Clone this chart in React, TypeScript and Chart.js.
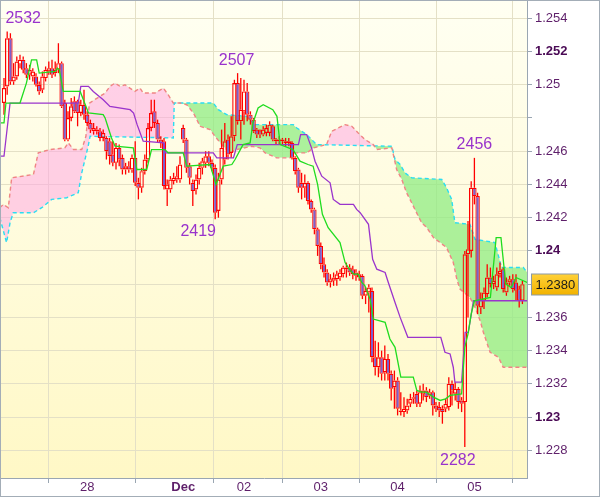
import React, { useEffect, useRef } from 'react';
import { Chart, registerables } from 'chart.js';

Chart.register(...registerables);

// ---------- data ----------
// hourly candles, first candle index
const FIRST_INDEX = -2;

const opens = [
  1.2489, 1.2499, 1.2528, 1.2502, 1.2505, 1.2512, 1.2515, 1.2510, 1.2506, 1.2505,
  1.2505, 1.2500, 1.2497, 1.2504, 1.2508, 1.2510, 1.2507, 1.2509, 1.2513, 1.2489,
  1.2467, 1.2480, 1.2490, 1.2490, 1.2483, 1.2488, 1.2482, 1.2477, 1.2472, 1.2472,
  1.2472, 1.2468, 1.2468, 1.2466, 1.2458, 1.2453, 1.2462, 1.2456, 1.2449, 1.2451,
  1.2449, 1.2456, 1.2441, 1.2438, 1.2448, 1.2455, 1.2474, 1.2484, 1.2477, 1.2467,
  1.2466, 1.2437, 1.2437, 1.2442, 1.2443, 1.2443, 1.2474, 1.2467, 1.2451, 1.2441,
  1.2437, 1.2443, 1.2450, 1.2453, 1.2457, 1.2453, 1.2450, 1.2424, 1.2443, 1.2455,
  1.2467, 1.2459, 1.2469, 1.2501, 1.2478, 1.2484, 1.2496, 1.2482, 1.2479, 1.2473,
  1.2472, 1.2470, 1.2471, 1.2471, 1.2475, 1.2467, 1.2466, 1.2467, 1.2466, 1.2465,
  1.2465, 1.2456, 1.2449, 1.2441, 1.2438, 1.2441, 1.2430, 1.2425, 1.2413, 1.2403,
  1.2392, 1.2387, 1.2381, 1.2382, 1.2383, 1.2384, 1.2386, 1.2389, 1.2390, 1.2389,
  1.2387, 1.2386, 1.2385, 1.2373, 1.2375, 1.2376, 1.2336, 1.2330, 1.2336, 1.2327,
  1.2335, 1.2326, 1.2318, 1.2322, 1.2304, 1.2303, 1.2304, 1.2308, 1.2311, 1.2314,
  1.2308, 1.2314, 1.2316, 1.2313, 1.2315, 1.2307, 1.2306, 1.2305, 1.2305, 1.2306,
  1.2320, 1.2314, 1.2317, 1.2310, 1.2309, 1.2398, 1.2400, 1.2438, 1.2433, 1.2366,
  1.2370, 1.2374, 1.2384, 1.2380, 1.2378, 1.2386, 1.2389, 1.2375, 1.2381, 1.2383,
  1.2381, 1.2377, 1.2370,
];
const highs = [
  1.2504, 1.2532, 1.2531, 1.2513, 1.2517, 1.2518, 1.2517, 1.2513, 1.2512, 1.2510,
  1.2507, 1.2502, 1.2508, 1.2511, 1.2514, 1.2515, 1.2514, 1.2525, 1.2514, 1.2491,
  1.2484, 1.2492, 1.2493, 1.2491, 1.2491, 1.2497, 1.2484, 1.2479, 1.2477, 1.2475,
  1.2474, 1.2473, 1.2469, 1.2468, 1.2466, 1.2465, 1.2464, 1.2458, 1.2453, 1.2454,
  1.2458, 1.2466, 1.2444, 1.2450, 1.2458, 1.2477, 1.2491, 1.2491, 1.2479, 1.2469,
  1.2468, 1.2443, 1.2445, 1.2447, 1.2451, 1.2457, 1.2476, 1.2468, 1.2453, 1.2443,
  1.2446, 1.2453, 1.2456, 1.2460, 1.2460, 1.2455, 1.2452, 1.2447, 1.2473, 1.2477,
  1.2470, 1.2481, 1.2503, 1.2507, 1.2504, 1.2503, 1.2501, 1.2484, 1.2480, 1.2474,
  1.2473, 1.2475, 1.2476, 1.2478, 1.2476, 1.2468, 1.2469, 1.2468, 1.2468, 1.2468,
  1.2466, 1.2457, 1.2450, 1.2447, 1.2446, 1.2442, 1.2431, 1.2426, 1.2414, 1.2405,
  1.2396, 1.2389, 1.2386, 1.2387, 1.2388, 1.2389, 1.2391, 1.2393, 1.2392, 1.2391,
  1.2389, 1.2388, 1.2386, 1.2378, 1.2380, 1.2378, 1.2346, 1.2345, 1.2340, 1.2343,
  1.2338, 1.2328, 1.2328, 1.2324, 1.2315, 1.2312, 1.2311, 1.2314, 1.2315, 1.2316,
  1.2319, 1.2320, 1.2318, 1.2317, 1.2316, 1.2309, 1.2309, 1.2307, 1.2311, 1.2324,
  1.2322, 1.2321, 1.2318, 1.2312, 1.2400, 1.2418, 1.2442, 1.2456, 1.2435, 1.2375,
  1.2378, 1.2392, 1.2390, 1.2385, 1.2390, 1.2393, 1.2390, 1.2384, 1.2385, 1.2386,
  1.2386, 1.2379, 1.2382,
];
const lows = [
  1.2482, 1.2494, 1.2500, 1.2500, 1.2503, 1.2510, 1.2507, 1.2504, 1.2503, 1.2502,
  1.2499, 1.2494, 1.2495, 1.2502, 1.2506, 1.2504, 1.2505, 1.2507, 1.2486, 1.2466,
  1.2466, 1.2478, 1.2483, 1.2475, 1.2481, 1.2479, 1.2475, 1.2471, 1.2470, 1.2470,
  1.2466, 1.2466, 1.2455, 1.2452, 1.2451, 1.2449, 1.2451, 1.2446, 1.2446, 1.2447,
  1.2447, 1.2439, 1.2431, 1.2435, 1.2446, 1.2453, 1.2472, 1.2474, 1.2465, 1.2462,
  1.2437, 1.2427, 1.2435, 1.2440, 1.2441, 1.2441, 1.2465, 1.2447, 1.2440, 1.2427,
  1.2434, 1.2440, 1.2446, 1.2450, 1.2451, 1.2448, 1.2419, 1.2420, 1.2440, 1.2452,
  1.2455, 1.2456, 1.2466, 1.2476, 1.2467, 1.2476, 1.2478, 1.2476, 1.2471, 1.2468,
  1.2468, 1.2469, 1.2469, 1.2469, 1.2466, 1.2464, 1.2464, 1.2464, 1.2463, 1.2463,
  1.2455, 1.2446, 1.2435, 1.2431, 1.2432, 1.2428, 1.2423, 1.2410, 1.2397, 1.2389,
  1.2384, 1.2379, 1.2378, 1.2379, 1.2379, 1.2382, 1.2384, 1.2384, 1.2385, 1.2383,
  1.2382, 1.2382, 1.2371, 1.2368, 1.2363, 1.2333, 1.2325, 1.2324, 1.2322, 1.2322,
  1.2322, 1.2310, 1.2305, 1.2301, 1.2301, 1.2300, 1.2302, 1.2306, 1.2308, 1.2306,
  1.2306, 1.2310, 1.2309, 1.2311, 1.2301, 1.2303, 1.2300, 1.2296, 1.2303, 1.2304,
  1.2307, 1.2310, 1.2305, 1.2303, 1.2282, 1.2360, 1.2396, 1.2428, 1.2362, 1.2362,
  1.2365, 1.2372, 1.2378, 1.2377, 1.2376, 1.2384, 1.2375, 1.2373, 1.2379, 1.2375,
  1.2370, 1.2366, 1.2368,
];
const closes = [
  1.2498, 1.2528, 1.2502, 1.2505, 1.2514, 1.2515, 1.2509, 1.2506, 1.2509, 1.2508,
  1.2500, 1.2496, 1.2505, 1.2509, 1.2510, 1.2506, 1.2509, 1.2513, 1.2487, 1.2467,
  1.2480, 1.2487, 1.2484, 1.2483, 1.2488, 1.2482, 1.2477, 1.2473, 1.2474, 1.2473,
  1.2468, 1.2471, 1.2460, 1.2457, 1.2453, 1.2462, 1.2455, 1.2449, 1.2451, 1.2449,
  1.2456, 1.2441, 1.2438, 1.2448, 1.2455, 1.2474, 1.2483, 1.2477, 1.2467, 1.2465,
  1.2439, 1.2440, 1.2443, 1.2444, 1.2445, 1.2452, 1.2467, 1.2450, 1.2444, 1.2436,
  1.2443, 1.2450, 1.2454, 1.2457, 1.2453, 1.2450, 1.2423, 1.2443, 1.2462, 1.2466,
  1.2458, 1.2469, 1.2501, 1.2478, 1.2485, 1.2496, 1.2482, 1.2479, 1.2472, 1.2470,
  1.2470, 1.2473, 1.2474, 1.2476, 1.2467, 1.2466, 1.2467, 1.2466, 1.2465, 1.2466,
  1.2456, 1.2448, 1.2438, 1.2438, 1.2441, 1.2430, 1.2425, 1.2413, 1.2403, 1.2392,
  1.2387, 1.2381, 1.2383, 1.2384, 1.2386, 1.2387, 1.2390, 1.2390, 1.2387, 1.2386,
  1.2385, 1.2384, 1.2373, 1.2376, 1.2378, 1.2336, 1.2330, 1.2336, 1.2326, 1.2335,
  1.2326, 1.2317, 1.2322, 1.2305, 1.2303, 1.2305, 1.2307, 1.2311, 1.2312, 1.2308,
  1.2315, 1.2316, 1.2312, 1.2315, 1.2307, 1.2305, 1.2304, 1.2303, 1.2308, 1.2320,
  1.2316, 1.2317, 1.2309, 1.2308, 1.2398, 1.2401, 1.2438, 1.2433, 1.2367, 1.2371,
  1.2375, 1.2384, 1.2380, 1.2382, 1.2386, 1.2388, 1.2377, 1.2381, 1.2383, 1.2377,
  1.2376, 1.2370, 1.2380,
];

// Ichimoku lines as [candle index, price] vertices
const tenkanLine: [number, number][] = [
  [-3.3, 1.2477], [-2, 1.2477], [-1.4, 1.2489], [3, 1.2489], [5, 1.2501], [6.6, 1.2515],
  [8.2, 1.2515], [9, 1.2507], [14, 1.2508], [14.7, 1.2510], [15.3, 1.2509], [16.5, 1.2496],
  [21.8, 1.2496], [24.4, 1.2483], [29, 1.2482], [29.6, 1.2480], [31.6, 1.2468], [32.7, 1.2463],
  [38.4, 1.2462], [39.5, 1.2449], [42.6, 1.2449], [44.1, 1.2461], [48.3, 1.2461], [49.3, 1.2459],
  [54, 1.2459], [55.1, 1.2451], [62.4, 1.2452], [64.25, 1.2440], [66.5, 1.2451], [69.2, 1.2452],
  [70.2, 1.2455], [72.7, 1.2464], [74.9, 1.2465], [75.8, 1.2477], [77.4, 1.2486], [79, 1.2488],
  [82, 1.2485], [83.3, 1.2481], [84.3, 1.2464], [88.3, 1.2461], [90.5, 1.2454], [93, 1.2452],
  [94.6, 1.2451], [96, 1.2440], [97.5, 1.2422], [99.3, 1.2414], [103, 1.2405], [104.6, 1.2393],
  [105.6, 1.2390], [107.2, 1.2386], [108.7, 1.2386], [109.8, 1.2381], [110.8, 1.2379],
  [112.4, 1.2371], [113.4, 1.2359], [117.1, 1.2357], [118.6, 1.2347], [120.2, 1.2342],
  [122, 1.2324], [125.9, 1.2324], [127, 1.2316], [128.5, 1.2315], [130, 1.2315], [132.2, 1.2312],
  [134.3, 1.2310], [136, 1.2311], [137.4, 1.2313], [141, 1.2314], [142, 1.2342], [143, 1.2350],
  [144, 1.2362], [145, 1.2370], [150, 1.2372], [151.8, 1.2408], [153.3, 1.2408], [154.8, 1.2380],
  [156.5, 1.2378], [158, 1.2384], [161.5, 1.2381],
];
const kijunLine: [number, number][] = [
  [-3.3, 1.2457], [-2, 1.2457], [-0.1, 1.2489], [21.2, 1.2489], [22, 1.2499], [24.4, 1.2499],
  [25.9, 1.2496], [29, 1.2491], [31.1, 1.2487], [37.4, 1.2485], [38.5, 1.2483], [39.6, 1.2476],
  [41.5, 1.2466], [47.8, 1.2465], [48.5, 1.2459], [63.4, 1.2459], [64.5, 1.2456], [69.7, 1.2456],
  [70.9, 1.2464], [90, 1.2464], [90.7, 1.2470], [92.6, 1.2470], [94.1, 1.2462], [95.2, 1.2454],
  [97.3, 1.2445], [99.9, 1.2441], [100.9, 1.2431], [103, 1.2428], [107.2, 1.2428], [108.2, 1.2425],
  [109.3, 1.2423], [111.9, 1.2416], [113.2, 1.2395], [114.5, 1.2389], [117.1, 1.2387],
  [118.1, 1.2381], [120.2, 1.2369], [121.8, 1.2360], [124.2, 1.2348], [134.5, 1.2348],
  [135.8, 1.2339], [137.4, 1.2338], [138.4, 1.2330], [138.9, 1.2321], [141, 1.2321],
  [142.1, 1.2351], [143.1, 1.2351], [144.7, 1.2370], [161.5, 1.2370],
];
const spanALine: [number, number][] = [
  [-3.3, 1.2420], [-1.2, 1.2405], [-0.1, 1.2417], [0.9, 1.2423], [7.2, 1.2423], [9.8, 1.2426],
  [12.9, 1.2431], [17.6, 1.2432], [21.2, 1.2435], [22.3, 1.2447], [24.3, 1.2463], [24.9, 1.2469],
  [50.9, 1.2468], [51.2, 1.2489], [63.4, 1.2489], [65, 1.2485], [67.6, 1.2482], [73.8, 1.2481],
  [76.4, 1.2476], [88.4, 1.2476], [89.5, 1.2474], [92.6, 1.2470], [95.7, 1.2464], [119.2, 1.2463],
  [120.2, 1.2455], [121.8, 1.2452], [123.3, 1.2447], [125.4, 1.2444], [134.8, 1.2443],
  [136.3, 1.2438], [137.9, 1.2431], [138.9, 1.2417], [143.6, 1.2416], [145.2, 1.2407],
  [151.4, 1.2405], [153.5, 1.2390], [160.3, 1.2390], [161.5, 1.2387],
];
const spanBLine: [number, number][] = [
  [-3.3, 1.2426], [-2.2, 1.2428], [-0.65, 1.2426], [0.4, 1.2444], [7.2, 1.2446], [8.7, 1.2459],
  [12.4, 1.2461], [17, 1.2462], [18.1, 1.2465], [19.7, 1.2461], [22.3, 1.2461], [23.6, 1.2469],
  [24.7, 1.2489], [29.6, 1.2495], [31.1, 1.2499], [32.7, 1.2501], [34.3, 1.2499], [35.8, 1.2500],
  [38.9, 1.2496], [40.5, 1.2498], [41.5, 1.2495], [45.2, 1.2495], [47.8, 1.2498], [49.3, 1.2494],
  [50.9, 1.2489], [53, 1.2489], [55.1, 1.2488], [57.2, 1.2483], [59.3, 1.2475], [62.4, 1.2473],
  [63.9, 1.2469], [66.5, 1.2463], [68.6, 1.2459], [70.7, 1.2461], [75.4, 1.2463], [78, 1.2462],
  [79.6, 1.2459], [83.2, 1.2456], [87.4, 1.2456], [88.9, 1.2459], [92.6, 1.2459], [94.7, 1.2462],
  [96.8, 1.2463], [98.8, 1.2464], [100.4, 1.2472], [102.5, 1.2474], [104.6, 1.2476],
  [106.7, 1.2475], [108.7, 1.2471], [110.8, 1.2467], [113.4, 1.2464], [114.5, 1.2461],
  [119.2, 1.2462], [120.7, 1.2449], [122.3, 1.2443], [123.8, 1.2435], [125.4, 1.2429],
  [126.4, 1.2425], [128.5, 1.2417], [130.1, 1.2414], [132.2, 1.2408], [134.3, 1.2405],
  [136.3, 1.2402], [138.4, 1.2393], [139.5, 1.2383], [140.5, 1.2377], [143.6, 1.2372],
  [145.2, 1.2366], [146.8, 1.2358], [147.8, 1.2351], [149.9, 1.2339], [152.5, 1.2336],
  [154, 1.2330], [161.5, 1.2330],
];

// x-axis day ticks (candle index of each day start)
const dayTickIndex = [0, 24, 54, 73, 97, 121, 145];
const dayTickLabels = ['', '28', 'Dec', '02', '03', '04', '05'];

// y-axis ticks
const priceTicks = [1.228, 1.23, 1.232, 1.234, 1.236, 1.238, 1.24, 1.242, 1.244, 1.246, 1.248, 1.25, 1.252, 1.254];
const priceTickLabels = ['1.228', '1.23', '1.232', '1.234', '1.236', '', '1.24', '1.242', '1.244', '1.246', '', '1.25', '1.252', '1.254'];
const boldPriceTicks = [1.23, 1.24, 1.252];

// marked extremes: candle index and price
const extremeIndex = [-1, 71, 64, 145, 142];
const extremeValue = [1.2532, 1.2507, 1.2419, 1.2456, 1.2282];

// ---------- styles ----------
const extremeOffsets = [[16, -13], [-1, -13], [-17, 12], [0, -13], [-7, 14]];
const RED = '#FF0000';
const BEAR = '#7D5FCB';
const GREEN = '#1FDC1F';
const PURPLE = '#9A34CC';
const CYAN = '#2ADDF2';
const SALMON = '#F08484';
const GREEN_FILL = 'rgba(140,236,128,0.72)';
const PINK_FILL = 'rgba(255,165,228,0.52)';
const GRID = '#E4E0C6';
const AXIS = '#9AA6B2';
const LABEL = '#5E1F6A';
const FONT = '"Liberation Sans", Arial, sans-serif';

export default function App() {
  const ref = useRef<HTMLCanvasElement>(null);

  useEffect(() => {
    document.body.style.margin = '0';
    const canvas = ref.current;
    if (!canvas) return;

    const idx = opens.map((_, k) => FIRST_INDEX + k);
    const bodies = idx.map((x, k) => ({ x, y: [opens[k], closes[k]] }));
    const upperWicks = idx.map((x, k) => ({ x, y: [Math.max(opens[k], closes[k]), highs[k]] }));
    const lowerWicks = idx.map((x, k) => ({ x, y: [lows[k], Math.min(opens[k], closes[k])] }));
    const bodyColors = idx.map((_, k) => (closes[k] < opens[k] ? BEAR : 'rgba(0,0,0,0)'));
    const pts = (arr: [number, number][]) => arr.map(([x, y]) => ({ x, y }));

    const bgPlugin = {
      id: 'bg',
      beforeDraw(chart: any) {
        const { ctx, chartArea: a } = chart;
        ctx.save();
        ctx.fillStyle = '#FFFFFF';
        ctx.fillRect(0, 0, chart.width, chart.height);
        const g = ctx.createLinearGradient(0, a.top, 0, a.bottom);
        g.addColorStop(0, '#FFFFF2');
        g.addColorStop(1, '#FFF8C6');
        ctx.fillStyle = g;
        ctx.fillRect(a.left, a.top, a.right - a.left, a.bottom - a.top);
        ctx.restore();
      },
    };

    const overlayPlugin = {
      id: 'overlay',
      afterDatasetsDraw(chart: any) {
        const { ctx, scales } = chart;
        ctx.save();
        ctx.font = `16px ${FONT}`;
        ctx.fillStyle = '#9933CC';
        ctx.textAlign = 'center';
        ctx.textBaseline = 'middle';
        extremeIndex.forEach((i, k) => {
          const v = extremeValue[k];
          const text = String(Math.round(v * 10000) % 10000);
          const x = scales.x.getPixelForValue(i) + extremeOffsets[k][0];
          const y = scales.y.getPixelForValue(v) + extremeOffsets[k][1];
          ctx.fillText(text, x, y);
        });
        ctx.restore();
      },
      afterDraw(chart: any) {
        const { ctx, scales, chartArea: a } = chart;
        const last = closes[closes.length - 1];
        const y = Math.round(scales.y.getPixelForValue(last));
        const x0 = a.right + 4.5;
        const w = 47;
        const h = 21;
        ctx.save();
        const g = ctx.createLinearGradient(0, y - h / 2, 0, y + h / 2);
        g.addColorStop(0, '#FFD23A');
        g.addColorStop(1, '#F2B300');
        ctx.fillStyle = g;
        ctx.fillRect(x0, y - h / 2 + 0.5, w, h);
        ctx.strokeStyle = '#8C9AA6';
        ctx.lineWidth = 1;
        ctx.strokeRect(x0, y - h / 2 + 0.5, w, h);
        ctx.fillStyle = '#1A1A1A';
        ctx.font = `13px ${FONT}`;
        ctx.textAlign = 'left';
        ctx.textBaseline = 'middle';
        ctx.fillText(last.toFixed(4), x0 + 4, y + 1);
        ctx.strokeStyle = '#A3ADB7';
        ctx.strokeRect(0.5, 0.5, chart.width - 1, chart.height - 1);
        ctx.restore();
      },
    };

    const chart = new Chart(canvas, {
      type: 'line',
      data: {
        datasets: [
          {
            type: 'line',
            data: pts(spanALine),
            borderColor: CYAN,
            borderWidth: 1.4,
            borderDash: [4, 3],
            pointRadius: 0,
            fill: { target: 1, above: GREEN_FILL, below: PINK_FILL },
            order: 10,
          },
          {
            type: 'line',
            data: pts(spanBLine),
            borderColor: SALMON,
            borderWidth: 1.4,
            borderDash: [4, 3],
            pointRadius: 0,
            fill: false,
            order: 9,
          },
          {
            type: 'bar',
            data: lowerWicks,
            backgroundColor: RED,
            borderWidth: 0,
            barThickness: 1.3,
            grouped: false,
            inflateAmount: 0,
            order: 8,
          },
          {
            type: 'bar',
            data: upperWicks,
            backgroundColor: RED,
            borderWidth: 0,
            barThickness: 1.3,
            grouped: false,
            inflateAmount: 0,
            order: 7,
          },
          {
            type: 'bar',
            data: bodies,
            backgroundColor: bodyColors,
            borderColor: RED,
            borderWidth: 1.2,
            borderSkipped: false,
            barThickness: 4.4,
            grouped: false,
            inflateAmount: 0,
            order: 6,
          },
          {
            type: 'line',
            data: pts(kijunLine),
            borderColor: PURPLE,
            borderWidth: 1.3,
            pointRadius: 0,
            fill: false,
            order: 2,
          },
          {
            type: 'line',
            data: pts(tenkanLine),
            borderColor: GREEN,
            borderWidth: 1.3,
            pointRadius: 0,
            fill: false,
            order: 1,
          },
        ] as any,
      },
      options: {
        animation: false,
        responsive: false,
        devicePixelRatio: 1,
        events: [],
        layout: { padding: { left: 1, top: 1, right: 1, bottom: 1 } },
        plugins: {
          legend: { display: false },
          tooltip: { enabled: false },
        },
        scales: {
          x: {
            type: 'linear',
            min: -2.9375,
            max: 161.4375,
            offset: false,
            afterBuildTicks: (s: any) => {
              s.ticks = dayTickIndex.map((v) => ({ value: v }));
            },
            afterFit: (s: any) => {
              s.height = 18;
              s.paddingLeft = 0;
              s.paddingRight = 0;
            },
            ticks: {
              autoSkip: false,
              maxRotation: 0,
              padding: -3,
              color: LABEL,
              font: (ctx: any) => ({
                family: FONT,
                size: 13,
                weight: ctx.tick && dayTickLabels[dayTickIndex.indexOf(ctx.tick.value)] === 'Dec' ? 'bold' : 'normal',
              }),
              callback: (v: any) => {
                const k = dayTickIndex.indexOf(Number(v));
                return k >= 0 ? dayTickLabels[k] : '';
              },
            },
            grid: {
              color: GRID,
              lineWidth: 1,
              drawTicks: true,
              tickLength: 5,
              tickColor: (ctx: any) => (ctx.tick && ctx.tick.value === 0 ? 'rgba(0,0,0,0)' : AXIS),
            },
            border: { color: AXIS, width: 1 },
          },
          y: {
            type: 'linear',
            position: 'right',
            min: 1.226333,
            max: 1.255041,
            afterBuildTicks: (s: any) => {
              s.ticks = priceTicks.map((v) => ({ value: v }));
            },
            afterFit: (s: any) => {
              s.width = 72;
              s.paddingTop = 0;
              s.paddingBottom = 0;
            },
            ticks: {
              padding: 3,
              color: (ctx: any) =>
                ctx.tick && boldPriceTicks.some((b) => Math.abs(b - ctx.tick.value) < 1e-7) ? '#4A0A55' : LABEL,
              font: (ctx: any) => ({
                family: FONT,
                size: 13,
                weight: ctx.tick && boldPriceTicks.some((b) => Math.abs(b - ctx.tick.value) < 1e-7) ? 'bold' : 'normal',
              }),
              callback: (_v: any, i: number) => priceTickLabels[i],
            },
            grid: {
              color: GRID,
              lineWidth: 1,
              drawTicks: true,
              tickLength: 5,
              tickColor: AXIS,
            },
            border: { color: AXIS, width: 1 },
          },
        },
      } as any,
      plugins: [bgPlugin, overlayPlugin],
    });

    return () => chart.destroy();
  }, []);

  return <canvas ref={ref} width={600} height={497} style={{ display: 'block' }} />;
}
